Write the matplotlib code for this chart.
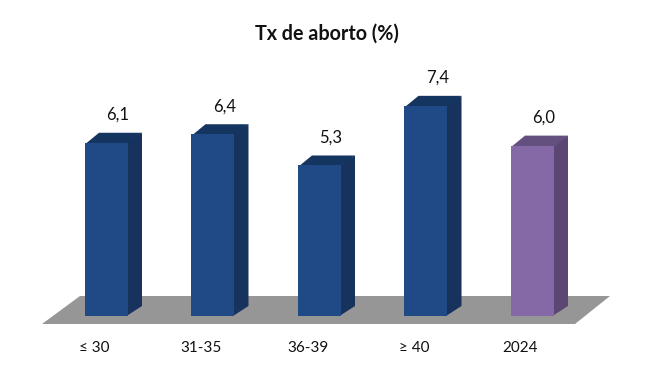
"""
Tx de aborto bar chart, fake 3D bars on a grey floor
"""

import matplotlib
matplotlib.use("Agg")
import matplotlib.pyplot as plt
from matplotlib.patches import Polygon

plt.rcParams['font.family'] = ['Lato', 'DejaVu Sans']

#-----Data-----

categories = ["≤ 30", "31-35", "36-39", "≥ 40", "2024"]
values = [6.1, 6.4, 5.3, 7.4, 6.0]
value_labels = ["6,1", "6,4", "5,3", "7,4", "6,0"]
title = "Tx de aborto (%)"

#-----Colours: front, side, top-----

blue = ("#1f4a86", "#17325c", "#143560")
purple = ("#8568a6", "#5b4674", "#64507f")
colours = [blue, blue, blue, blue, purple]

#-----Figure, one axes over the whole canvas-----

W, H = 655, 378
px_per_cat = 106.5
px_per_val = 28.4
x0_px = 106.5   # centre of first bar
y0_px = 316     # bar base

fig = plt.figure(figsize=(W/100, H/100), dpi=100)
ax = fig.add_axes([0, 0, 1, 1])
ax.set_xlim((0 - x0_px)/px_per_cat, (W - x0_px)/px_per_cat)
ax.set_ylim((y0_px - H)/px_per_val, y0_px/px_per_val)
ax.axis("off")

dx = 14/px_per_cat
dy = 10/px_per_val
bar_w = 43/px_per_cat
seam = 1.5/px_per_cat   # side and top run under the front, no white line
seam_y = 1.5/px_per_val

#-----Floor-----

def px(x, y):
    return ((x - x0_px)/px_per_cat, (y0_px - y)/px_per_val)

floor = Polygon([px(42, 324), px(575, 324), px(610, 296), px(80, 296)],
                closed=True, facecolor="#969696", edgecolor="none", zorder=1)
ax.add_patch(floor)

#-----Bars-----

for i, v in enumerate(values):
    front, side, top = colours[i]
    left = i - bar_w/2
    right = i + bar_w/2
    ax.bar(i, v, width=bar_w, color=front, linewidth=0, zorder=3)
    ax.add_patch(Polygon([(right - seam, 0), (right + dx, dy), (right + dx, v + dy), (right - seam, v)],
                         closed=True, facecolor=side, edgecolor="none", zorder=2))
    ax.add_patch(Polygon([(left, v - seam_y), (right, v - seam_y), (right + dx, v + dy), (left + dx, v + dy)],
                         closed=True, facecolor=top, edgecolor="none", zorder=2))
    ax.text(i + 11.5/px_per_cat, v + 28/px_per_val, value_labels[i],
            ha="center", va="center", fontsize=12, color="#111111")
    ax.text(i - 12/px_per_cat, -32/px_per_val, categories[i],
            ha="center", va="center", fontsize=11, color="#111111")

#-----Title-----

ax.text(*px(327, 34), title, ha="center", va="center", fontsize=14.2,
        fontweight="bold", color="#111111")

fig.savefig("out.png", dpi=100, facecolor="white")
